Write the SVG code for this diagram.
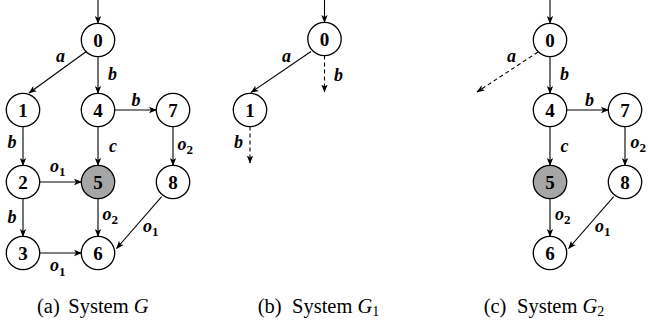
<svg xmlns="http://www.w3.org/2000/svg" width="648" height="326" viewBox="0 0 648 326">
<style>
.n circle{fill:#fff;stroke:#000;stroke-width:1.3}
.n.g circle{fill:#a6a6a6}
.n text{font-family:'Liberation Serif','Times New Roman',serif;font-weight:bold;font-size:19px;text-anchor:middle}
.e{fill:none;stroke:#000;stroke-width:1.1;marker-end:url(#ah)}
.d{stroke-dasharray:4,3}
.l{font-family:'Liberation Serif','Times New Roman',serif;font-weight:bold;font-style:italic;font-size:18px;text-anchor:middle}
.o{text-anchor:start}
.s{font-size:13px;font-style:normal}
.cap{font-family:'Liberation Serif','Times New Roman',serif;font-size:20.5px}
</style>
<defs>
<marker id="ah" viewBox="0 0 8 8" refX="7.5" refY="4" markerWidth="8" markerHeight="8" markerUnits="userSpaceOnUse" orient="auto">
<path d="M0,0.8 L8,4 L0,7.2 L2,4 z" fill="#000"/>
</marker>
</defs>
<g id="connectors">
<path class="e" d="M98,0 V23.5"/>
<path class="e" d="M87,51 L29,93"/>
<path class="e" d="M98,56.5 V93.5"/>
<path class="e" d="M114.5,110 H156.5"/>
<path class="e" d="M23,126.5 V165.5"/>
<path class="e" d="M98,126.5 V165.5"/>
<path class="e" d="M173,126.5 V165.5"/>
<path class="e" d="M39.5,182 H81.5"/>
<path class="e" d="M23,198.5 V236.5"/>
<path class="e" d="M98,198.5 V236.5"/>
<path class="e" d="M161.7,196.7 L116.5,248.5"/>
<path class="e" d="M39.5,253 H81.5"/>
<path class="e" d="M324.5,0 V22.5"/>
<path class="e" d="M311,51.5 L251,92.5"/>
<path class="e d" d="M324.5,55.5 V92"/>
<path class="e d" d="M250,126.5 V163"/>
<path class="e" d="M550,0 V23.5"/>
<path class="e d" d="M538,52 L477,92"/>
<path class="e" d="M550,56.5 V93.5"/>
<path class="e" d="M566.5,110 H608.5"/>
<path class="e" d="M550,126.5 V165.5"/>
<path class="e" d="M625,126.5 V165.5"/>
<path class="e" d="M550,198.5 V236.5"/>
<path class="e" d="M613.7,196.7 L568.5,248.5"/>
</g>
<g id="edge-labels">
<text class="l" x="60.5" y="61.5">a</text>
<text class="l" x="112.5" y="80">b</text>
<text class="l" x="136" y="106">b</text>
<text class="l" x="12" y="148">b</text>
<text class="l" x="113" y="151.5">c</text>
<text class="l o" x="177.5" y="150">o<tspan class="s" dy="4">2</tspan></text>
<text class="l o" x="50" y="172">o<tspan class="s" dy="4">1</tspan></text>
<text class="l" x="12" y="222.5">b</text>
<text class="l o" x="102.5" y="220">o<tspan class="s" dy="4">2</tspan></text>
<text class="l o" x="143" y="231.5">o<tspan class="s" dy="4">1</tspan></text>
<text class="l o" x="50" y="270.5">o<tspan class="s" dy="5">1</tspan></text>
<text class="l" x="286.5" y="61.5">a</text>
<text class="l" x="338.5" y="81">b</text>
<text class="l" x="238.5" y="148">b</text>
<text class="l" x="511.5" y="61.5">a</text>
<text class="l" x="564.5" y="80">b</text>
<text class="l" x="589.5" y="106">b</text>
<text class="l" x="564.5" y="151.5">c</text>
<text class="l o" x="630.5" y="148">o<tspan class="s" dy="4">2</tspan></text>
<text class="l o" x="555" y="220">o<tspan class="s" dy="4">2</tspan></text>
<text class="l o" x="595" y="232">o<tspan class="s" dy="4">1</tspan></text>
</g>
<g id="a0" class="n"><circle cx="98" cy="40" r="16.7"/><text x="98" y="46.5">0</text></g>
<g id="a1" class="n"><circle cx="23" cy="110" r="16.7"/><text x="23" y="116.5">1</text></g>
<g id="a4" class="n"><circle cx="98" cy="110" r="16.7"/><text x="98" y="116.5">4</text></g>
<g id="a7" class="n"><circle cx="173" cy="110" r="16.7"/><text x="173" y="116.5">7</text></g>
<g id="a2" class="n"><circle cx="23" cy="182" r="16.7"/><text x="23" y="188.5">2</text></g>
<g id="a5" class="n g"><circle cx="98" cy="182" r="16.7"/><text x="98" y="188.5">5</text></g>
<g id="a8" class="n"><circle cx="173" cy="182" r="16.7"/><text x="173" y="188.5">8</text></g>
<g id="a3" class="n"><circle cx="23" cy="253" r="16.7"/><text x="23" y="259.5">3</text></g>
<g id="a6" class="n"><circle cx="98" cy="253" r="16.7"/><text x="98" y="259.5">6</text></g>
<g id="b0" class="n"><circle cx="324.5" cy="39" r="16.7"/><text x="324.5" y="45.5">0</text></g>
<g id="b1" class="n"><circle cx="250" cy="110" r="16.7"/><text x="250" y="116.5">1</text></g>
<g id="c0" class="n"><circle cx="550" cy="40" r="16.7"/><text x="550" y="46.5">0</text></g>
<g id="c4" class="n"><circle cx="550" cy="110" r="16.7"/><text x="550" y="116.5">4</text></g>
<g id="c7" class="n"><circle cx="625" cy="110" r="16.7"/><text x="625" y="116.5">7</text></g>
<g id="c5" class="n g"><circle cx="550" cy="182" r="16.7"/><text x="550" y="188.5">5</text></g>
<g id="c8" class="n"><circle cx="625" cy="182" r="16.7"/><text x="625" y="188.5">8</text></g>
<g id="c6" class="n"><circle cx="550" cy="253" r="16.7"/><text x="550" y="259.5">6</text></g>
<g id="captions" class="cap">
<text x="37" y="313">(a)<tspan x="68.3">System <tspan font-style="italic">G</tspan></tspan></text>
<text x="257.7" y="313">(b)<tspan x="292">System <tspan font-style="italic">G</tspan><tspan font-size="14" dy="3">1</tspan></tspan></text>
<text x="483.7" y="313">(c)<tspan x="517">System <tspan font-style="italic">G</tspan><tspan font-size="14" dy="3">2</tspan></tspan></text>
</g>
</svg>
